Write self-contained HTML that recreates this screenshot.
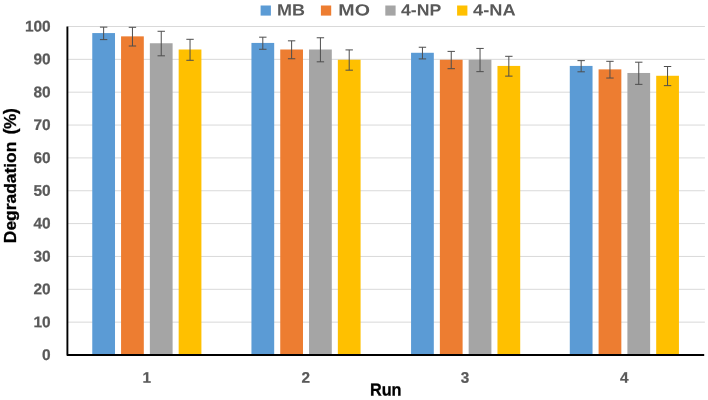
<!DOCTYPE html><html><head><meta charset="utf-8"><title>Degradation chart</title><style>html,body{margin:0;padding:0;background:#fff}body{width:708px;height:400px;overflow:hidden}svg{display:block}text{font-family:"Liberation Sans",sans-serif;font-weight:bold}</style></head><body>
<svg width="708" height="400" viewBox="0 0 708 400">
<rect width="708" height="400" fill="#fff"/>
<line x1="67.5" x2="704.9" y1="322.15" y2="322.15" stroke="#D9D9D9" stroke-width="1"/>
<line x1="67.5" x2="704.9" y1="289.30" y2="289.30" stroke="#D9D9D9" stroke-width="1"/>
<line x1="67.5" x2="704.9" y1="256.45" y2="256.45" stroke="#D9D9D9" stroke-width="1"/>
<line x1="67.5" x2="704.9" y1="223.60" y2="223.60" stroke="#D9D9D9" stroke-width="1"/>
<line x1="67.5" x2="704.9" y1="190.75" y2="190.75" stroke="#D9D9D9" stroke-width="1"/>
<line x1="67.5" x2="704.9" y1="157.90" y2="157.90" stroke="#D9D9D9" stroke-width="1"/>
<line x1="67.5" x2="704.9" y1="125.05" y2="125.05" stroke="#D9D9D9" stroke-width="1"/>
<line x1="67.5" x2="704.9" y1="92.20" y2="92.20" stroke="#D9D9D9" stroke-width="1"/>
<line x1="67.5" x2="704.9" y1="59.35" y2="59.35" stroke="#D9D9D9" stroke-width="1"/>
<line x1="67.5" x2="704.9" y1="26.50" y2="26.50" stroke="#D9D9D9" stroke-width="1"/>
<rect x="92.26" y="33.07" width="22.75" height="321.93" fill="#5B9BD5"/>
<rect x="121.06" y="36.36" width="22.75" height="318.64" fill="#ED7D31"/>
<rect x="149.86" y="43.25" width="22.75" height="311.75" fill="#A5A5A5"/>
<rect x="178.66" y="49.50" width="22.75" height="305.50" fill="#FFC000"/>
<path d="M103.64 27.13V39.61M99.94 27.13h7.4M99.94 39.61h7.4" stroke="#4d4d4d" stroke-width="1" fill="none"/>
<path d="M132.44 27.30V46.01M128.74 27.30h7.4M128.74 46.01h7.4" stroke="#4d4d4d" stroke-width="1" fill="none"/>
<path d="M161.24 31.28V55.82M157.54 31.28h7.4M157.54 55.82h7.4" stroke="#4d4d4d" stroke-width="1" fill="none"/>
<path d="M190.04 39.30V60.29M186.34 39.30h7.4M186.34 60.29h7.4" stroke="#4d4d4d" stroke-width="1" fill="none"/>
<rect x="251.44" y="42.93" width="22.75" height="312.07" fill="#5B9BD5"/>
<rect x="280.24" y="49.50" width="22.75" height="305.50" fill="#ED7D31"/>
<rect x="309.04" y="49.50" width="22.75" height="305.50" fill="#A5A5A5"/>
<rect x="337.84" y="59.74" width="22.75" height="295.26" fill="#FFC000"/>
<path d="M262.81 37.18V49.27M259.11 37.18h7.4M259.11 49.27h7.4" stroke="#4d4d4d" stroke-width="1" fill="none"/>
<path d="M291.61 40.83V58.76M287.91 40.83h7.4M287.91 58.76h7.4" stroke="#4d4d4d" stroke-width="1" fill="none"/>
<path d="M320.41 37.77V61.82M316.71 37.77h7.4M316.71 61.82h7.4" stroke="#4d4d4d" stroke-width="1" fill="none"/>
<path d="M349.21 49.91V70.18M345.51 49.91h7.4M345.51 70.18h7.4" stroke="#4d4d4d" stroke-width="1" fill="none"/>
<rect x="411.06" y="52.78" width="22.75" height="302.22" fill="#5B9BD5"/>
<rect x="439.86" y="59.74" width="22.75" height="295.26" fill="#ED7D31"/>
<rect x="468.66" y="59.74" width="22.75" height="295.26" fill="#A5A5A5"/>
<rect x="497.46" y="65.92" width="22.75" height="289.08" fill="#FFC000"/>
<path d="M422.44 47.24V58.92M418.74 47.24h7.4M418.74 58.92h7.4" stroke="#4d4d4d" stroke-width="1" fill="none"/>
<path d="M451.24 51.39V68.70M447.54 51.39h7.4M447.54 68.70h7.4" stroke="#4d4d4d" stroke-width="1" fill="none"/>
<path d="M480.04 48.43V71.65M476.34 48.43h7.4M476.34 71.65h7.4" stroke="#4d4d4d" stroke-width="1" fill="none"/>
<path d="M508.84 56.30V76.14M505.14 56.30h7.4M505.14 76.14h7.4" stroke="#4d4d4d" stroke-width="1" fill="none"/>
<rect x="569.79" y="65.92" width="22.75" height="289.08" fill="#5B9BD5"/>
<rect x="598.59" y="69.37" width="22.75" height="285.63" fill="#ED7D31"/>
<rect x="627.39" y="72.98" width="22.75" height="282.02" fill="#A5A5A5"/>
<rect x="656.19" y="75.77" width="22.75" height="279.23" fill="#FFC000"/>
<path d="M581.16 60.64V71.80M577.46 60.64h7.4M577.46 71.80h7.4" stroke="#4d4d4d" stroke-width="1" fill="none"/>
<path d="M609.96 61.30V78.04M606.26 61.30h7.4M606.26 78.04h7.4" stroke="#4d4d4d" stroke-width="1" fill="none"/>
<path d="M638.76 62.20V84.36M635.06 62.20h7.4M635.06 84.36h7.4" stroke="#4d4d4d" stroke-width="1" fill="none"/>
<path d="M667.56 66.50V85.65M663.86 66.50h7.4M663.86 85.65h7.4" stroke="#4d4d4d" stroke-width="1" fill="none"/>
<path d="M67.4 26.5V354.95H704.2" stroke="#000" stroke-width="1.9" fill="none" stroke-linejoin="round"/>
<text transform="translate(50.7 360.00) rotate(0.03) scale(0.96 0.96)" font-size="16.1" fill="#595959" stroke="#595959" stroke-width="0.25" text-anchor="end">0</text>
<text transform="translate(50.7 327.15) rotate(0.03) scale(0.96 0.96)" font-size="16.1" fill="#595959" stroke="#595959" stroke-width="0.25" text-anchor="end">10</text>
<text transform="translate(50.7 294.30) rotate(0.03) scale(0.96 0.96)" font-size="16.1" fill="#595959" stroke="#595959" stroke-width="0.25" text-anchor="end">20</text>
<text transform="translate(50.7 261.45) rotate(0.03) scale(0.96 0.96)" font-size="16.1" fill="#595959" stroke="#595959" stroke-width="0.25" text-anchor="end">30</text>
<text transform="translate(50.7 228.60) rotate(0.03) scale(0.96 0.96)" font-size="16.1" fill="#595959" stroke="#595959" stroke-width="0.25" text-anchor="end">40</text>
<text transform="translate(50.7 195.75) rotate(0.03) scale(0.96 0.96)" font-size="16.1" fill="#595959" stroke="#595959" stroke-width="0.25" text-anchor="end">50</text>
<text transform="translate(50.7 162.90) rotate(0.03) scale(0.96 0.96)" font-size="16.1" fill="#595959" stroke="#595959" stroke-width="0.25" text-anchor="end">60</text>
<text transform="translate(50.7 130.05) rotate(0.03) scale(0.96 0.96)" font-size="16.1" fill="#595959" stroke="#595959" stroke-width="0.25" text-anchor="end">70</text>
<text transform="translate(50.7 97.20) rotate(0.03) scale(0.96 0.96)" font-size="16.1" fill="#595959" stroke="#595959" stroke-width="0.25" text-anchor="end">80</text>
<text transform="translate(50.7 64.35) rotate(0.03) scale(0.96 0.96)" font-size="16.1" fill="#595959" stroke="#595959" stroke-width="0.25" text-anchor="end">90</text>
<text transform="translate(50.7 31.50) rotate(0.03) scale(0.96 0.96)" font-size="16.1" fill="#595959" stroke="#595959" stroke-width="0.25" text-anchor="end">100</text>
<text transform="translate(146.69 382.7) rotate(0.03) scale(0.95 0.95)" font-size="16.1" fill="#595959" stroke="#595959" stroke-width="0.25" text-anchor="middle">1</text>
<text transform="translate(305.86 382.7) rotate(0.03) scale(0.95 0.95)" font-size="16.1" fill="#595959" stroke="#595959" stroke-width="0.25" text-anchor="middle">2</text>
<text transform="translate(465.04 382.7) rotate(0.03) scale(0.95 0.95)" font-size="16.1" fill="#595959" stroke="#595959" stroke-width="0.25" text-anchor="middle">3</text>
<text transform="translate(624.21 382.7) rotate(0.03) scale(0.95 0.95)" font-size="16.1" fill="#595959" stroke="#595959" stroke-width="0.25" text-anchor="middle">4</text>
<text transform="translate(369.9 395.4) rotate(0.03)" font-size="17.4" fill="#000" stroke="#000" stroke-width="0.3" textLength="31.6" lengthAdjust="spacingAndGlyphs">Run</text>
<g transform="translate(15.9 243.2) rotate(-90)" font-size="17.2" fill="#000" stroke="#000" stroke-width="0.3"><text x="0" y="0" textLength="101.6" lengthAdjust="spacingAndGlyphs">Degradation</text><text x="108.6" y="0.5" font-size="18.4">(</text><text x="114.3" y="0" font-size="16.4" textLength="15.2" lengthAdjust="spacingAndGlyphs">%</text><text x="129.0" y="0.5" font-size="18.4">)</text></g>
<rect x="260.6" y="5.5" width="10.3" height="10.1" fill="#5B9BD5"/>
<text transform="translate(277.0 15.5) rotate(0.03)" font-size="16.2" fill="#595959" textLength="28" lengthAdjust="spacingAndGlyphs">MB</text>
<rect x="320.9" y="5.5" width="10.3" height="10.1" fill="#ED7D31"/>
<text transform="translate(338.3 15.5) rotate(0.03)" font-size="16.2" fill="#595959" textLength="31.6" lengthAdjust="spacingAndGlyphs">MO</text>
<rect x="385.3" y="5.5" width="10.3" height="10.1" fill="#A5A5A5"/>
<text transform="translate(401 15.5) rotate(0.03)" font-size="16.2" fill="#595959" textLength="40.2" lengthAdjust="spacingAndGlyphs">4-NP</text>
<rect x="457.1" y="5.5" width="10.3" height="10.1" fill="#FFC000"/>
<text transform="translate(473 15.5) rotate(0.03)" font-size="16.2" fill="#595959" textLength="42.6" lengthAdjust="spacingAndGlyphs">4-NA</text>
</svg></body></html>
